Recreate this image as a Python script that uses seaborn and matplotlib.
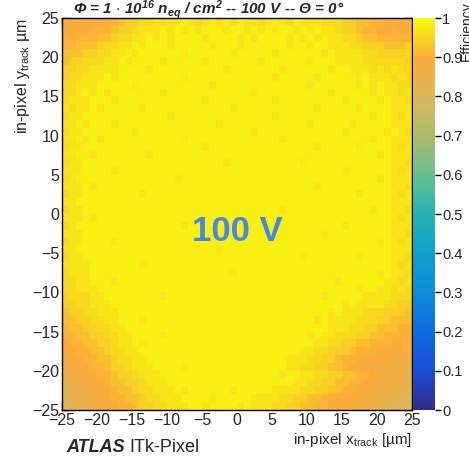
import numpy as np
import pandas as pd
import matplotlib
matplotlib.use("Agg")
import matplotlib.pyplot as plt
import seaborn as sns
from matplotlib.colors import LinearSegmentedColormap

# ---------------- data ----------------
# 50 x 50 bins of 1 um, rows from top (y = +24.5) to bottom (y = -24.5),
# columns from x = -24.5 to +24.5. Each character is an efficiency level.
LEVEL_CHARS = "0123456789"
LEVEL_VALUES = [0.81, 0.84, 0.87, 0.893, 0.908, 0.923, 0.94, 0.955, 0.968, 0.983]

EFF_ROWS = [
    "33333344566778788987898979887898798887776655443332",
    "33334445667888989898999899898989989898876654433433",
    "43444556778898989999899998989999898989887765544444",
    "44555677889899989999989998999999899899888776665556",
    "55566778898999999899999989999989999998988887766667",
    "56677788989999899999899999998999999899988887777776",
    "66778888999989999999999899999998999999899888787877",
    "67788898999999999899999999999989999989999989888787",
    "77888999998999999999989999999999999899999989898877",
    "77898989999999899999999999989999999999899999898878",
    "78889998999999999999899999999989999999998999989887",
    "87889899999899999999999989999999999989999989999888",
    "78899999999999989999999999999989999999999999899878",
    "88989998999999999999998999999999999899999899999888",
    "78899999998999999999999999989999999999998999998987",
    "88989899999999999899999999999998999999999999899888",
    "78899999999999999999899999999999999989999989999878",
    "88998999999989999999999999999999999999999999989888",
    "78899999999999999999999899999999998999999999999887",
    "88899998999999999999999999999999999999998999999878",
    "78999999999999998999999999999999999999999999989888",
    "88898999999999999999999999999999999989999999999887",
    "78899999999899999999999999999999999999999989999878",
    "88999999999999999999999999999999999999999999999888",
    "78899999999999999999999999999998999999999999899887",
    "88898999999999999999999999999999999999999999999878",
    "78999999999999999899999999999999999999998999999888",
    "88899999999999999999999999999999999998999999999887",
    "78899998999999999999999999999999999999999999989878",
    "88999999999999999999998999999999999999999999999888",
    "78899999999999999999999999999999998999999989999887",
    "88889999999899999999999999999999999999999999999878",
    "78889999999999999999999989999999999999999999989887",
    "77889998999999999999999999999999999999989999998878",
    "77888999999999999999999999999999999999999989988787",
    "67778899999999899999999999999999999998999998888777",
    "66778889999999999999999999999999999999998988887766",
    "56677888999999999999999999999999999999898887776665",
    "55667788999899999999999999999999999989888877766555",
    "45566778899999999999999999999999999999888776655544",
    "44556677889999899999999999999999999898877766554444",
    "34455667889899999999999999999999999988776655444333",
    "33445567788999999999999999999999998877666544433332",
    "23344556778899999999999999999999888776654433333222",
    "22334456678889999899999999999999887766554333222221",
    "12233445667888999999999999999998998877665544332221",
    "11223345566788899999999999999999988776655443322211",
    "01122334556778889899999989999988887766554433222111",
    "01112234455677888999989999988887766554433332211100",
    "00112233445667788899899998988877665544333322111000",
]

X_TICKS = [-25, -20, -15, -10, -5, 0, 5, 10, 15, 20, 25]
Y_TICKS = [-25, -20, -15, -10, -5, 0, 5, 10, 15, 20, 25]
CBAR_TICKS = [0, 0.1, 0.2, 0.3, 0.4, 0.5, 0.6, 0.7, 0.8, 0.9, 1]
X_MIN, X_MAX = -25, 25
Y_MIN, Y_MAX = -25, 25

# ---------------- build table ----------------
for r in EFF_ROWS:
    if len(r) != 50:
        raise ValueError(f"row length {len(r)}: {r}")
lut = dict(zip(LEVEL_CHARS, LEVEL_VALUES))
eff = np.array([[lut[c] for c in row] for row in EFF_ROWS])
x_centers = np.arange(X_MIN, X_MAX) + 0.5
y_centers = (np.arange(Y_MAX, Y_MIN, -1) - 0.5)
df = pd.DataFrame(eff, index=y_centers, columns=x_centers)

# palette matched to the reference colour bar (ROOT-like bird palette)
cmap_stops = [
    (0.00, (0.20, 0.17, 0.53)),
    (0.10, (0.10, 0.30, 0.85)),
    (0.20, (0.05, 0.42, 0.88)),
    (0.30, (0.06, 0.55, 0.85)),
    (0.40, (0.05, 0.63, 0.80)),
    (0.50, (0.15, 0.70, 0.70)),
    (0.60, (0.40, 0.75, 0.55)),
    (0.70, (0.68, 0.74, 0.42)),
    (0.80, (0.86, 0.72, 0.36)),
    (0.90, (0.99, 0.67, 0.22)),
    (0.95, (0.97, 0.84, 0.12)),
    (1.00, (0.976, 0.983, 0.054)),
]
cmap = LinearSegmentedColormap.from_list("bird_like", cmap_stops, N=512)

# ---------------- figure ----------------
sns.set_theme(style="white")
plt.rcParams["font.family"] = ["Liberation Sans", "DejaVu Sans"]
plt.rcParams["mathtext.default"] = "regular"

W, H = 469, 459
fig = plt.figure(figsize=(W / 100, H / 100), dpi=100)
ax = fig.add_axes([62 / W, 1 - 410 / H, 350 / W, 392 / H])
cax = fig.add_axes([413 / W, 1 - 410 / H, 22 / W, 392 / H])

sns.heatmap(df, ax=ax, cbar_ax=cax, cmap=cmap, vmin=0, vmax=1,
            xticklabels=False, yticklabels=False, linewidths=0,
            rasterized=True)

# axes frame and ROOT-like ticks
for s in ax.spines.values():
    s.set_visible(True)
    s.set_color("black")
    s.set_linewidth(1.0)

def xpos(v):
    return v - X_MIN

def ypos(v):
    return Y_MAX - v

def fmt(v):
    return str(v).replace("-", "\u2212")

ax.set_xticks([xpos(v) for v in X_TICKS])
ax.set_xticklabels([fmt(v) for v in X_TICKS], fontsize=11.5)
ax.set_xticks([xpos(v) for v in range(X_MIN, X_MAX + 1)], minor=True)
ax.set_yticks([ypos(v) for v in Y_TICKS])
ax.set_yticklabels([fmt(v) for v in Y_TICKS], fontsize=11.5, rotation=0)
ax.set_yticks([ypos(v) for v in range(Y_MIN, Y_MAX + 1)], minor=True)
ax.tick_params(which="both", direction="in", top=True, right=True,
               bottom=True, left=True, color="black")
ax.tick_params(which="major", length=5.5, width=1.0, pad=2)
ax.tick_params(which="minor", length=2.8, width=0.8)
ax.set_xlabel("")
ax.set_ylabel("")

# colorbar
cax.set_yticks(CBAR_TICKS)
cax.set_yticklabels([("%g" % v) for v in CBAR_TICKS], fontsize=10.5)
cax.tick_params(which="major", direction="out", length=4, width=1.0,
                right=True, left=False, color="black", pad=1)
cax.minorticks_off()

# texts
ax.text(0.5, 0.455, "100 V", transform=ax.transAxes, ha="center",
        va="center", fontsize=25, fontweight="bold", color="#4a86e8")

fig.text(73 / W, 1 - 10 / H,
         r"$\Phi$ = 1 $\cdot$ 10$^{16}$ n$_{eq}$ / cm$^{2}$ -- 100 V -- $\Theta$ = 0°",
         ha="left", va="center", fontsize=11, fontweight="bold",
         fontstyle="italic")

fig.text(412 / W, 1 - 440 / H, r"in-pixel x$_{track}$ [µm]", ha="right",
         va="center", fontsize=11)
fig.text(22 / W, 1 - 18 / H, r"in-pixel y$_{track}$ µm", ha="center",
         va="top", rotation=90, fontsize=11.5)
fig.text(467 / W, 1 - 1 / H, "Efficiency", ha="center", va="top",
         rotation=90, fontsize=10)

fig.text(66 / W, 1 - 447 / H, "ATLAS", ha="left", va="center",
         fontsize=13, fontweight="bold", fontstyle="italic")
fig.text(129 / W, 1 - 447 / H, "ITk-Pixel", ha="left", va="center",
         fontsize=13)

fig.savefig("out.png", dpi=100)
